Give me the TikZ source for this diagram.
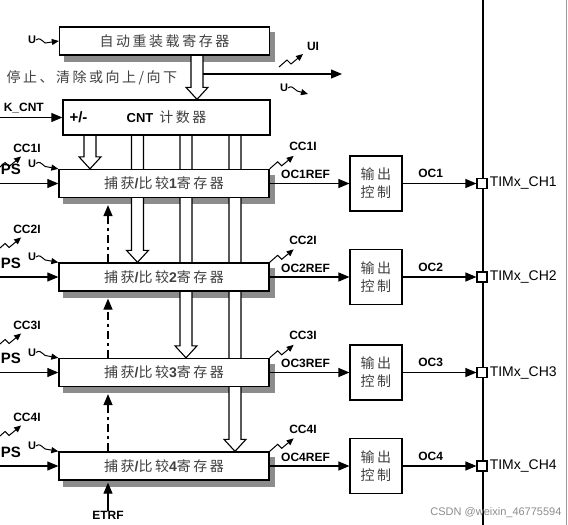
\documentclass[tikz,border=0pt]{standalone}
\usepackage{fontspec}
\setmainfont{Liberation Sans}
\newfontfamily\cjk[LetterSpace=18]{Noto Sans CJK SC}
\usetikzlibrary{arrows.meta,positioning,calc}

\pgfdeclarelayer{shadowlayer}
\pgfdeclarelayer{back}
\pgfsetlayers{shadowlayer,back,main}

\tikzset{
  reg/.style={draw, line width=1.3pt, fill=white, minimum width=210pt, minimum height=28pt,
    inner sep=0pt, text=black!75, font=\cjk\fontsize{14}{16}\selectfont},
  outctl/.style={draw, line width=1.1pt, fill=white, minimum width=52pt, minimum height=55pt,
    inner sep=0pt, align=center, text=black!75, font=\cjk\fontsize{14}{18}\selectfont},
  chpin/.style={draw, line width=1.1pt, fill=white, minimum size=10pt, inner sep=0pt},
  lbl/.style={font=\bfseries\fontsize{12}{12}\selectfont, inner sep=0pt},
  biglbl/.style={font=\bfseries\fontsize{15}{15}\selectfont, inner sep=0pt},
  ulbl/.style={font=\bfseries\fontsize{11}{11}\selectfont, inner sep=0pt},
  sig/.style={line width=1.1pt, -{Triangle[length=11pt,width=9pt]}},
  sigdashdot/.style={sig, line width=1.3pt, dash pattern=on 8pt off 4pt on 3pt off 4pt},
  hollow/.style={line width=1.1pt, fill=white},
  small tip/.style={line width=1pt, -{Triangle[length=7pt,width=6pt]}},
  regshade/.style={fill=black!45},
  zig/.pic={\draw[small tip] (0,0) -- (8,-7) -- (12,-3) -- (24,-13);},
}

% gray shadow under a register box
\newcommand\regshadow[1]{%
  \begin{pgfonlayer}{shadowlayer}
    \fill[regshade] ([shift={(5pt,-6pt)}]#1.north west) rectangle ([shift={(5pt,-6pt)}]#1.south east);
  \end{pgfonlayer}}

% hollow arrow at x from one box down to another
\newcommand\hollowarrow[3]{%
  \path (#1,0 |- #2.south) coordinate (ha-top) (#1,0 |- #3.north) coordinate (ha-tip);
  \draw[hollow] ([xshift=-6pt]ha-top) -- ([xshift=-6pt,yshift=12pt]ha-tip)
    -- ([xshift=-11pt,yshift=12pt]ha-tip) -- (ha-tip) -- ([xshift=11pt,yshift=12pt]ha-tip)
    -- ([xshift=6pt,yshift=12pt]ha-tip) -- ([xshift=6pt]ha-top);}

\begin{document}
\begin{tikzpicture}[x=1pt,y=-1pt]
  \useasboundingbox (0,0) rectangle (568,525);

  % auto reload and counter
  \node[reg] (reload) at (164.5,41) {自动重装载寄存器};
  \regshadow{reload}
  \node[reg, minimum width=207pt, minimum height=35pt] (cnt) at (166.5,117.5)
    {\textcolor{black}{\rmfamily\bfseries\fontsize{13}{13}\selectfont CNT}\hspace{6pt}计数器};
  \node[biglbl, right=7pt of cnt.west] (updown) {+/-};

  \node[ulbl] (u0) at (32,40) {U};
  \draw[small tip] (u0.east) .. controls +(3,-3) and +(-4,-3) .. ++(9,3) -- (reload.west);
  \node[anchor=west, text=black!75, font=\cjk\fontsize{14}{16}\selectfont] (ctrl) at (3,78)
    {停止、清除或向上/向下};

  \coordinate (updsrc) at (203,74);
  \coordinate (updev) at (342,74);
  \draw[sig] (updsrc) -- (updev);
  \pic at (279,67) {zig};
  \node[lbl] (ui) at (313,46) {UI};
  \node[ulbl] (u5) at (284,88) {U};
  \coordinate (uev) at (308,94);
  \draw[small tip] (u5.east) .. controls +(3,-3) and +(-4,-3) .. ++(9,3) -- (uev);

  \node[lbl, anchor=east] (ckcnt) at (44,108) {K\_CNT};
  \coordinate (ckin) at (0,117.5);
  \draw[sig] (ckin) -- (cnt.west);

  % capture/compare channels
  \foreach \i/\c/\ly in {1/183.5/148, 2/277/229, 3/372.5/325, 4/466/417} {
    \node[reg] (cc\i) at (164,\c)
      {捕获{\rmfamily\bfseries /}比较{\rmfamily\bfseries\i}寄存器};
    \regshadow{cc\i}
    \node[outctl] (oc\i) at (376,\c) {输出\\控制};
    \node[chpin] (pin\i) at (482,\c) {};
    \node[right=1pt of pin\i, inner sep=1pt, font=\fontsize{14}{14}\selectfont] (ch\i) {TIMx\_CH\i};
    \draw[sig] (cc\i) -- node[lbl, above=4pt, pos=0.45] {OC\i REF} (oc\i);
    \draw[sig] (oc\i) -- node[lbl, above=5pt, pos=0.38] {OC\i} (pin\i);
    \pic at (cc\i.north east) {zig};
    \node[lbl] (ccr\i) at (303,\c-37) {CC\i I};
    % left side inputs
    \node[lbl] (ccl\i) at (27,\ly) {CC\i I};
    \pic at ($(ccl\i.south west)+(-16,17)$) {zig};
    \node[biglbl, anchor=east] (ps\i) at (21,\c-14) {PS};
    \node[ulbl] (u\i) at (32,\c-20) {U};
    \draw[small tip] (u\i.east) .. controls +(3,-3) and +(-4,-3) .. ++(9,3) -- (cc\i.north west);
    \coordinate (in\i) at (0,\c);
    \draw[sig] (in\i) -- (cc\i);
  }

  \foreach \j/\k in {1/2, 2/3, 3/4}
    \draw[sigdashdot] (108,0 |- cc\k.north) -- ($(108,0 |- cc\j.south)+(0,7)$);
  \node[lbl] (etrf) at (108,515) {ETRF};
  \draw[sig] (etrf) -- ($(108,0 |- cc4.south)+(0,2)$);

  \begin{pgfonlayer}{back}
    \hollowarrow{197}{reload}{cnt}
    \hollowarrow{90}{cnt}{cc1}
    \hollowarrow{137.5}{cnt}{cc2}
    \hollowarrow{186}{cnt}{cc3}
    \hollowarrow{235}{cnt}{cc4}
    \coordinate (bustop) at (483,0);
    \coordinate (busbot) at (483,525);
    \draw[line width=2.8pt] (bustop) -- (busbot);
  \end{pgfonlayer}
  \draw[black!40, line width=0.6pt] (566,0) -- (566,525);

  \node[anchor=east, text=black!45, font=\fontsize{11}{11}\selectfont] (mark) at (565,513)
    {CSDN @weixin\_46775594};
\end{tikzpicture}
\end{document}
